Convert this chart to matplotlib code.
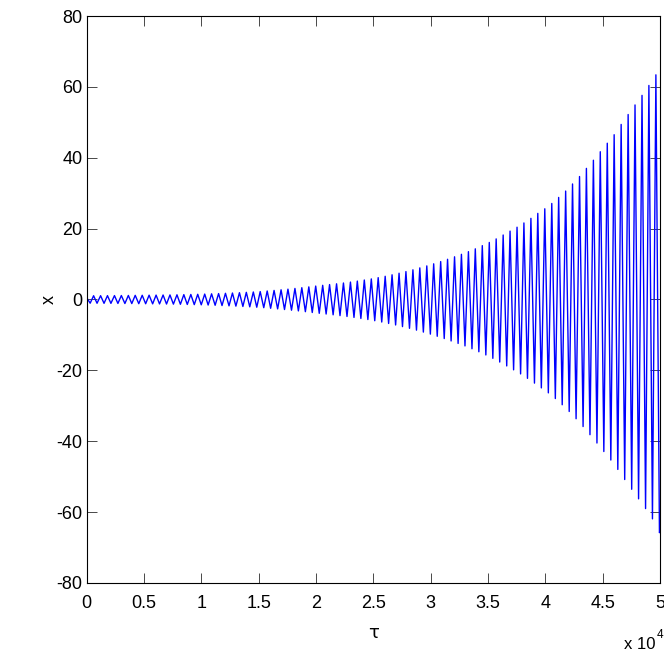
import numpy as np
import matplotlib
matplotlib.use('Agg')
import matplotlib.pyplot as plt
from matplotlib.ticker import FuncFormatter

plt.rcParams['font.family'] = ['Liberation Sans', 'DejaVu Sans']

# extrema of the oscillation (tau in thousands)
peak_tau = [0.60, 1.21, 1.81, 2.42, 3.02, 3.63, 4.23, 4.84, 5.44, 6.05,
            6.66, 7.26, 7.87, 8.47, 9.08, 9.68, 10.29, 10.89, 11.50, 12.10,
            12.71, 13.32, 13.92, 14.53, 15.13, 15.74, 16.34, 16.95, 17.55, 18.16,
            18.76, 19.37, 19.97, 20.58, 21.18, 21.79, 22.39, 23.00, 23.60, 24.21,
            24.82, 25.42, 26.03, 26.63, 27.24, 27.84, 28.45, 29.05, 29.66, 30.26,
            30.87, 31.47, 32.08, 32.68, 33.29, 33.89, 34.50, 35.11, 35.71, 36.32,
            36.92, 37.53, 38.13, 38.74, 39.34, 39.95, 40.56, 41.16, 41.77, 42.37,
            42.98, 43.58, 44.19, 44.79, 45.40, 46.00, 46.61, 47.22, 47.82, 48.43,
            49.03, 49.64]
peak_x = [1.06, 1.07, 1.09, 1.10, 1.12, 1.14, 1.17, 1.19, 1.22, 1.24,
          1.27, 1.29, 1.33, 1.37, 1.42, 1.47, 1.53, 1.60, 1.67, 1.75,
          1.83, 1.92, 2.02, 2.12, 2.23, 2.40, 2.56, 2.74, 2.92, 3.12,
          3.33, 3.56, 3.79, 4.00, 4.21, 4.43, 4.66, 4.92, 5.20, 5.50,
          5.81, 6.17, 6.55, 6.97, 7.42, 7.88, 8.38, 8.92, 9.48, 10.07,
          10.70, 11.35, 12.05, 12.75, 13.5, 14.3, 15.2, 16.1, 17.1, 18.2,
          19.3, 20.4, 21.6, 22.9, 24.3, 25.6, 27.1, 28.8, 30.6, 32.6,
          34.7, 37.0, 39.3, 41.7, 44.1, 46.5, 49.4, 52.2, 54.9, 57.6,
          60.4, 63.4]
trough_tau = [0.30, 0.90, 1.51, 2.11, 2.72, 3.33, 3.93, 4.54, 5.14, 5.75,
              6.35, 6.96, 7.56, 8.17, 8.77, 9.38, 9.99, 10.59, 11.20, 11.80,
              12.41, 13.01, 13.62, 14.22, 14.83, 15.44, 16.04, 16.65, 17.25, 17.86,
              18.46, 19.07, 19.67, 20.28, 20.88, 21.49, 22.09, 22.70, 23.31, 23.91,
              24.52, 25.12, 25.73, 26.33, 26.94, 27.54, 28.15, 28.76, 29.36, 29.97,
              30.57, 31.18, 31.78, 32.39, 32.99, 33.60, 34.20, 34.81, 35.42, 36.02,
              36.63, 37.23, 37.84, 38.44, 39.05, 39.65, 40.26, 40.87, 41.47, 42.08,
              42.68, 43.29, 43.89, 44.50, 45.10, 45.71, 46.32, 46.92, 47.53, 48.13,
              48.74, 49.34, 49.95]
trough_x = [-1.05, -1.06, -1.08, -1.09, -1.11, -1.13, -1.15, -1.18, -1.20, -1.23,
            -1.25, -1.28, -1.31, -1.35, -1.40, -1.45, -1.50, -1.56, -1.63, -1.71,
            -1.79, -1.87, -1.97, -2.07, -2.18, -2.31, -2.48, -2.65, -2.83, -3.02,
            -3.22, -3.44, -3.67, -3.90, -4.10, -4.32, -4.55, -4.79, -5.06, -5.35,
            -5.65, -5.99, -6.36, -6.76, -7.19, -7.65, -8.13, -8.65, -9.20, -9.77,
            -10.38, -11.02, -11.70, -12.40, -13.1, -13.9, -14.75, -15.65, -16.6, -17.65,
            -18.75, -19.85, -21.0, -22.25, -23.6, -24.95, -26.35, -27.95, -29.7, -31.6,
            -33.65, -35.85, -38.15, -40.5, -42.9, -45.3, -47.95, -50.8, -53.55, -56.25,
            -59.0, -61.9, -65.8]
start_tau, start_x = 0.0, 0.5
end_tau, end_x = 50.0, -65.2

xticks = [0, 0.5, 1, 1.5, 2, 2.5, 3, 3.5, 4, 4.5, 5]   # x 10^4
yticks = [-80, -60, -40, -20, 0, 20, 40, 60, 80]

tau = np.concatenate([[start_tau], peak_tau, trough_tau, [end_tau]]) * 1e3
xv = np.concatenate([[start_x], peak_x, trough_x, [end_x]])
order = np.argsort(tau)
tau, xv = tau[order], xv[order]

fig = plt.figure(figsize=(6.64, 6.64), dpi=100)
ax = fig.add_axes([0.1306, 0.122, 0.8634, 0.8539])
ax.plot(tau, xv, color='#0000ff', lw=1.0)

ax.set_xlim(0, 5e4)
ax.set_ylim(-80, 80)
ax.set_xticks([t * 1e4 for t in xticks])
ax.xaxis.set_major_formatter(FuncFormatter(lambda v, p: '%g' % (v / 1e4)))
ax.set_yticks(yticks)
ax.yaxis.set_major_formatter(FuncFormatter(lambda v, p: '%g' % v))
ax.tick_params(direction='in', length=7, width=0.5, top=True, right=True,
               labelsize=13, colors='black')
ax.tick_params(axis='x', pad=9)
ax.tick_params(axis='y', pad=3)
for s in ax.spines.values():
    s.set_linewidth(0.8)

ax.set_xlabel('τ', fontsize=13, labelpad=8, family=['DejaVu Sans'])
ax.set_ylabel('x', fontsize=13, labelpad=-1)

fig.text(656 / 664, 1 - 649 / 664, 'x 10', fontsize=12, ha='right', va='baseline')
fig.text(656.5 / 664, 1 - 638 / 664, '4', fontsize=8.5, ha='left', va='baseline')

fig.savefig('out.png', dpi=100)
